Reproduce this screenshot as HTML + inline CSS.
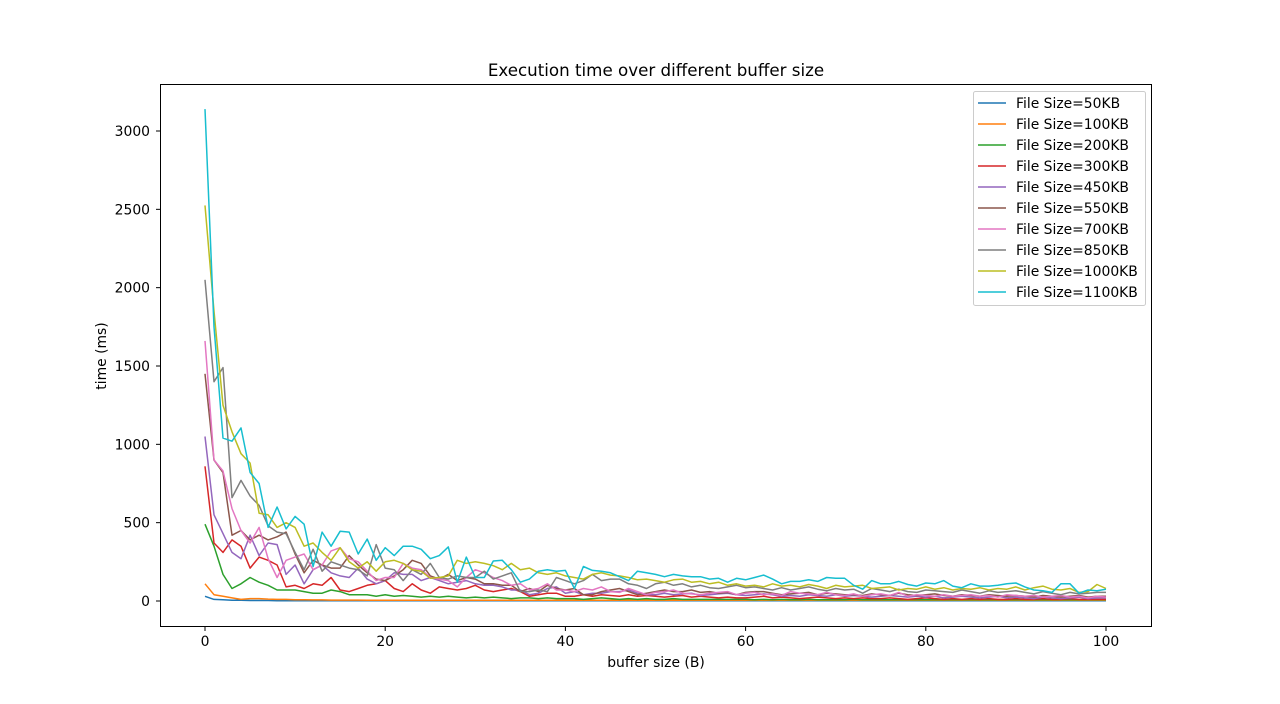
<!DOCTYPE html>
<html><head><meta charset="utf-8"><style>
body{margin:0;background:#fff;}
svg{display:block;font-family:"DejaVu Sans","Liberation Sans",sans-serif;}
</style></head><body>
<svg id="chart" width="1280" height="704" xmlns="http://www.w3.org/2000/svg">
<rect width="1280" height="704" fill="#fff"/>
<defs><clipPath id="clip"><rect x="160" y="84" width="992" height="543"/></clipPath></defs>
<g id="series" clip-path="url(#clip)"></g>
<g id="axes"></g>
<rect x="160.5" y="84.5" width="991" height="542" fill="none" stroke="#000" stroke-width="1"/>
<text x="656" y="76" font-size="16.7" text-anchor="middle">Execution time over different buffer size</text>
<text x="656" y="667" font-size="13.9" text-anchor="middle">buffer size (B)</text>
<text x="106" y="356" font-size="13.9" text-anchor="middle" transform="rotate(-90 106 356)">time (ms)</text>
<g id="legend"></g>
</svg>
<script>
const xTicks=[0,20,40,60,80,100];
const yTicks=[0,500,1000,1500,2000,2500,3000];
const seriesNames=["File Size=50KB","File Size=100KB","File Size=200KB","File Size=300KB","File Size=450KB","File Size=550KB","File Size=700KB","File Size=850KB","File Size=1000KB","File Size=1100KB"];
const colors=["#1f77b4","#ff7f0e","#2ca02c","#d62728","#9467bd","#8c564b","#e377c2","#7f7f7f","#bcbd22","#17becf"];
const s50=[30,10,8,5,5,3,3,3,2,2, 2,2,2,2,2,2,2,2,2,2, 2,2,2,2,2,2,2,2,2,2, 2,2,2,2,2,2,2,2,2,2, 2,2,2,2,2,2,2,2,2,2, 2,2,2,2,2,2,2,2,2,2, 2,2,2,2,2,2,2,2,2,2, 2,2,2,2,2,2,2,2,2,2, 2,2,2,2,2,2,2,2,2,2, 2,2,2,2,2,2,2,2,2,2,2];
const s100=[110,40,30,20,10,15,15,12,10,10, 8,8,7,7,6,6,6,6,5,5, 5,5,5,5,5,5,5,5,5,5, 5,5,5,5,5,5,5,5,5,5, 5,5,5,5,5,5,5,5,5,5, 5,5,5,5,5,5,5,5,5,5, 5,5,5,5,5,5,5,5,5,5, 5,5,5,5,5,5,5,5,5,5, 5,5,5,5,5,5,5,5,5,5, 5,5,5,5,5,5,5,5,5,5,5];
const s200=[490,350,170,80,110,150,120,100,70,70, 70,60,50,50,70,60,40,40,40,30, 40,30,35,30,25,30,25,30,25,20, 25,20,25,20,15,20,20,15,20,15, 15,15,10,15,20,15,10,15,10,15, 10,10,15,10,10,10,10,10,10,10, 10,8,10,8,10,8,8,10,8,8, 8,8,10,8,8,8,8,8,8,8, 8,8,8,8,8,8,8,8,8,8, 8,8,8,8,8,8,8,8,8,8,8];
const s300=[860,370,310,390,350,210,280,260,230,90, 100,80,110,100,150,70,60,80,100,110, 130,80,60,110,70,50,90,80,70,80, 100,70,60,70,80,60,30,40,50,50, 30,30,40,30,40,35,30,40,30,35, 30,25,30,35,25,30,25,20,25,20, 20,25,30,20,25,20,15,20,25,20, 15,20,15,20,15,15,20,15,10,15, 20,15,10,15,10,15,10,15,10,10, 15,10,10,15,10,10,15,10,10,10,10];
const s450=[1050,550,430,310,270,420,290,370,360,170, 230,110,200,230,180,160,150,210,140,110, 130,180,170,170,130,150,130,110,120,130, 110,100,100,90,70,70,40,50,80,90, 50,60,40,50,50,60,60,70,50,40, 40,50,40,45,50,35,40,45,50,40, 35,40,45,40,30,35,30,40,35,30, 40,30,35,30,25,30,35,30,25,30, 25,30,20,25,30,25,20,25,30,20, 25,20,15,25,20,15,20,25,15,20,20];
const s550=[1450,900,820,420,450,390,420,390,410,440, 300,180,260,230,210,210,290,230,180,140, 130,160,200,260,240,160,140,170,130,150, 140,110,110,100,100,60,80,60,100,80, 70,80,40,40,60,70,80,60,40,50, 60,70,60,60,70,55,60,50,55,40, 55,60,60,50,40,45,50,55,40,50, 45,40,40,35,45,40,35,50,40,35, 40,45,35,30,40,35,30,40,35,30, 35,30,25,35,30,25,30,35,25,30,30];
const s700=[1660,900,830,590,450,370,470,270,150,260, 280,300,200,230,320,340,270,250,190,130, 150,150,240,210,200,150,140,130,90,150, 200,180,150,130,100,110,70,80,110,70, 70,60,80,70,90,60,55,80,60,40, 55,60,70,50,45,40,50,55,60,40, 50,55,40,45,35,60,50,45,40,55, 40,35,45,30,40,45,35,55,30,40, 35,30,40,30,35,40,30,35,25,40, 35,30,35,25,30,35,25,30,20,30,25];
const s850=[2050,1400,1490,660,770,670,610,480,440,430, 310,200,330,190,250,230,210,200,160,360, 210,200,130,200,170,240,150,140,160,150, 150,190,140,160,180,60,60,70,60,150, 130,110,130,170,130,140,140,110,100,80, 110,120,100,110,90,100,85,80,90,100, 85,90,80,70,85,70,80,90,75,65, 80,70,75,50,80,70,60,75,60,55, 70,65,60,55,70,60,50,65,55,60, 65,55,45,60,50,40,55,45,50,55,55];
const s1000=[2525,1850,1250,1080,940,880,560,550,470,500, 470,350,370,310,260,340,250,210,250,190, 250,260,240,200,190,145,150,160,260,240, 250,240,225,200,240,200,210,180,170,180, 160,150,140,170,180,165,160,150,135,140, 130,120,135,140,120,125,110,120,100,110, 95,100,90,110,95,100,90,105,95,80, 100,90,95,100,80,85,90,70,80,75, 90,75,85,70,80,75,85,70,80,75, 90,70,85,95,75,70,80,55,60,105,80];
const s1100=[3140,1750,1040,1020,1105,820,750,470,600,460, 540,490,220,440,350,445,440,300,395,260, 340,290,350,350,330,270,290,345,120,280, 150,150,255,260,200,120,140,190,200,190, 195,80,220,195,190,180,155,130,190,180, 170,155,170,160,155,155,140,145,120,145, 135,150,165,140,110,125,125,135,125,150, 145,145,100,75,130,110,110,125,105,95, 115,110,130,95,85,110,95,95,100,110, 115,90,70,65,55,110,110,50,70,65,75];
const allSeries=[s50,s100,s200,s300,s450,s550,s700,s850,s1000,s1100];

const NS="http://www.w3.org/2000/svg";
const xS=v=>205+v*9.01;
const yS=v=>601-v*0.156667;
const ax=document.getElementById('axes');
function mk(tag,attrs,parent){const e=document.createElementNS(NS,tag);for(const k in attrs)e.setAttribute(k,attrs[k]);parent.appendChild(e);return e;}
xTicks.forEach(t=>{
  const l=mk('line',{x1:xS(t),x2:xS(t),y1:627,y2:631,stroke:'#000'},ax);
  
  
  const tx=mk('text',{x:xS(t),y:646,'font-size':13.9,'text-anchor':'middle'},ax);
  tx.textContent=t;
  
  
});
yTicks.forEach(t=>{
  const l=mk('line',{x1:156,x2:160,y1:yS(t),y2:yS(t),stroke:'#000'},ax);
  
  
  const tx=mk('text',{x:150,y:yS(t)+5,'font-size':13.9,'text-anchor':'end'},ax);
  tx.textContent=t;
  
  
});
const sg=document.getElementById('series');
allSeries.forEach((s,i)=>{
  const pts=s.map((v,j)=>xS(j).toFixed(1)+','+yS(v).toFixed(1)).join(' ');
  const p=mk('polyline',{points:pts,fill:'none',stroke:colors[i],'stroke-width':1.5,'stroke-linejoin':'round'},sg);
  
  
});
const lg=document.getElementById('legend');
const box=mk('rect',{x:973.5,y:91.5,width:172,height:214,rx:2,fill:'#fff','fill-opacity':0.8,stroke:'#ccc'},lg);


seriesNames.forEach((n,i)=>{
  const y=103+i*21;
  const g=mk('g',{},lg);
  
  
  mk('line',{x1:978,x2:1006,y1:y,y2:y,stroke:colors[i],'stroke-width':1.5},g);
  const t=mk('text',{x:1016,y:y+5,'font-size':13.9},g);
  t.textContent=n;
});
</script>
</body></html>
